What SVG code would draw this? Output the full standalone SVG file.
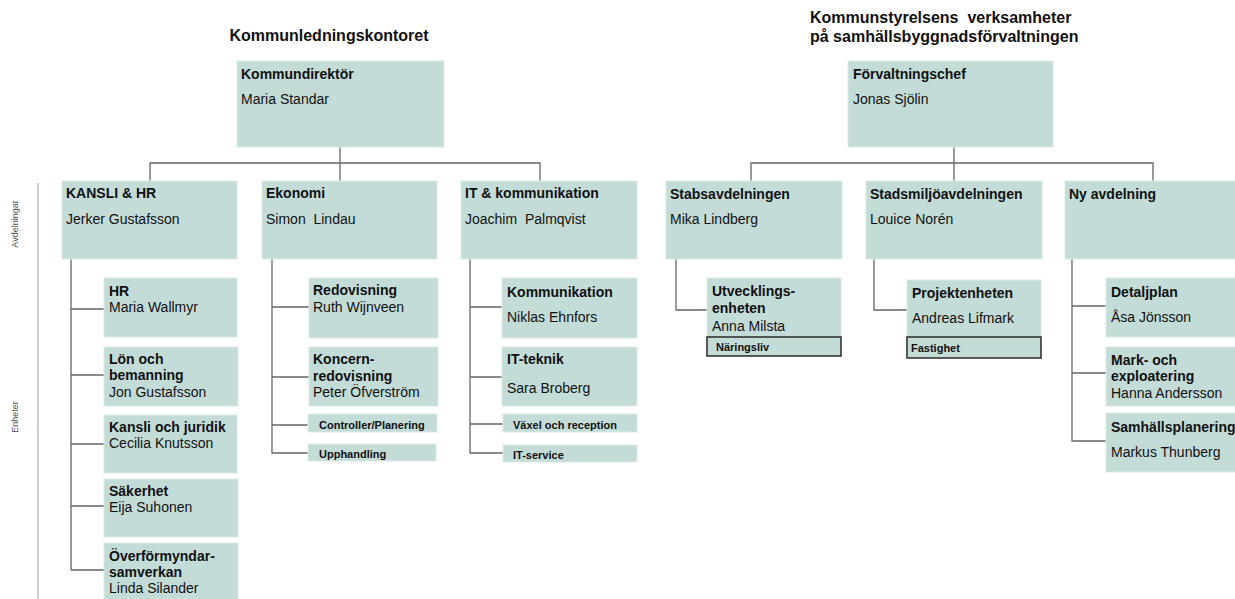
<svg xmlns="http://www.w3.org/2000/svg" width="1235" height="599" viewBox="0 0 1235 599" xml:space="preserve">
<style>
text{font-family:"Liberation Sans",Arial,sans-serif;fill:#111;white-space:pre}
.h{font-size:16px;font-weight:bold}
.t{font-size:14px;font-weight:bold}
.n{font-size:14px}
.s{font-size:11px;font-weight:bold}
.side{font-size:9px;fill:#555}
.box{fill:#c3dcd8;stroke:#dbe9e6;stroke-width:1}
.dbox{fill:#c3dcd8;stroke:#2a2a2a;stroke-width:1.5}
.c{fill:none;stroke:#666;stroke-width:1.3}
</style>
<rect width="1235" height="599" fill="#fff"/>
<text class="h" x="329" y="41" text-anchor="middle">Kommunledningskontoret</text>
<text class="h" x="810" y="23">Kommunstyrelsens  verksamheter</text>
<text class="h" x="810" y="42">på samhällsbyggnadsförvaltningen</text>
<line x1="38" y1="183" x2="38" y2="599" stroke="#bfbfbf" stroke-width="1.5"/>
<text class="side" transform="translate(18,224) rotate(-90)" text-anchor="middle">Avdelningar</text>
<text class="side" transform="translate(18,417) rotate(-90)" text-anchor="middle">Enheter</text>
<g id="connectors">
<path class="c" d="M340 147V163M150 181V163H540V181M340 163V181"/>
<path class="c" d="M71 259V570M71 309H104M71 375H104M71 444H104M71 506H104M71 570H104"/>
<path class="c" d="M272 259V453H308M272 307H309M272 377H309M272 425H308"/>
<path class="c" d="M470 259V453H503M470 307H502M470 377H502M470 424H503"/>
<path class="c" d="M954 147V163M751 181V163H1153V181M954 163V181"/>
<path class="c" d="M676 259V310H707"/>
<path class="c" d="M874 259V310H907"/>
<path class="c" d="M1072 259V441H1106M1072 306H1106M1072 373H1106"/>
</g>
<g id="kommundirektor"><rect class="box" x="237" y="61" width="207" height="86"/><text class="t" x="241" y="79">Kommundirektör</text><text class="n" x="241" y="104">Maria Standar</text></g>
<g id="kansli-hr"><rect class="box" x="62" y="181" width="175" height="78"/><text class="t" x="66" y="198">KANSLI &amp; HR</text><text class="n" x="66" y="224">Jerker Gustafsson</text></g>
<g id="ekonomi"><rect class="box" x="262" y="181" width="175" height="78"/><text class="t" x="266" y="198">Ekonomi</text><text class="n" x="266" y="224">Simon  Lindau</text></g>
<g id="it-kommunikation"><rect class="box" x="461" y="181" width="176" height="78"/><text class="t" x="465" y="198">IT &amp; kommunikation</text><text class="n" x="465" y="224">Joachim  Palmqvist</text></g>
<g id="hr"><rect class="box" x="104" y="278" width="133" height="59"/><text class="t" x="109" y="296">HR</text><text class="n" x="109" y="312">Maria Wallmyr</text></g>
<g id="lon"><rect class="box" x="104" y="347" width="134" height="59"/><text class="t" x="109" y="364">Lön och</text><text class="t" x="109" y="380">bemanning</text><text class="n" x="109" y="397">Jon Gustafsson</text></g>
<g id="kansli-juridik"><rect class="box" x="104" y="415" width="133" height="58"/><text class="t" x="109" y="432">Kansli och juridik</text><text class="n" x="109" y="448">Cecilia Knutsson</text></g>
<g id="sakerhet"><rect class="box" x="104" y="479" width="134" height="58"/><text class="t" x="109" y="496">Säkerhet</text><text class="n" x="109" y="512">Eija Suhonen</text></g>
<g id="overformyndar"><rect class="box" x="104" y="543" width="134" height="60"/><text class="t" x="109" y="561">Överförmyndar-</text><text class="t" x="109" y="577">samverkan</text><text class="n" x="109" y="593">Linda Silander</text></g>
<g id="redovisning"><rect class="box" x="309" y="278" width="129" height="60"/><text class="t" x="313" y="295">Redovisning</text><text class="n" x="313" y="312">Ruth Wijnveen</text></g>
<g id="koncern"><rect class="box" x="309" y="347" width="129" height="59"/><text class="t" x="313" y="364">Koncern-</text><text class="t" x="313" y="381">redovisning</text><text class="n" x="313" y="397">Peter Öfverström</text></g>
<g id="controller"><rect class="box" x="308" y="414" width="129" height="18"/><text class="s" x="319" y="429">Controller/Planering</text></g>
<g id="upphandling"><rect class="box" x="308" y="444" width="128" height="17"/><text class="s" x="319" y="458">Upphandling</text></g>
<g id="kommunikation"><rect class="box" x="502" y="278" width="135" height="60"/><text class="t" x="507" y="297">Kommunikation</text><text class="n" x="507" y="322">Niklas Ehnfors</text></g>
<g id="it-teknik"><rect class="box" x="502" y="347" width="135" height="59"/><text class="t" x="507" y="364">IT-teknik</text><text class="n" x="507" y="393">Sara Broberg</text></g>
<g id="vaxel"><rect class="box" x="503" y="414" width="134" height="18"/><text class="s" x="513" y="429">Växel och reception</text></g>
<g id="it-service"><rect class="box" x="503" y="445" width="134" height="17"/><text class="s" x="513" y="459">IT-service</text></g>
<g id="forvaltningschef"><rect class="box" x="848" y="61" width="205" height="86"/><text class="t" x="853" y="79">Förvaltningschef</text><text class="n" x="853" y="104">Jonas Sjölin</text></g>
<g id="stabsavdelningen"><rect class="box" x="666" y="181" width="176" height="78"/><text class="t" x="670" y="199">Stabsavdelningen</text><text class="n" x="670" y="224">Mika Lindberg</text></g>
<g id="stadsmiljoavdelningen"><rect class="box" x="866" y="181" width="176" height="78"/><text class="t" x="870" y="199">Stadsmiljöavdelningen</text><text class="n" x="870" y="224">Louice Norén</text></g>
<g id="ny-avdelning"><rect class="box" x="1065" y="181" width="175" height="78"/><text class="t" x="1069" y="199">Ny avdelning</text></g>
<g id="utvecklingsenheten"><rect class="box" x="707" y="278" width="134" height="59"/><text class="t" x="712" y="296">Utvecklings-</text><text class="t" x="712" y="313">enheten</text><text class="n" x="712" y="331">Anna Milsta</text></g>
<g id="naringsliv"><rect class="dbox" x="707" y="337" width="134" height="19"/><text class="s" x="716" y="351">Näringsliv</text></g>
<g id="projektenheten"><rect class="box" x="907" y="280" width="134" height="57"/><text class="t" x="912" y="298">Projektenheten</text><text class="n" x="912" y="323">Andreas Lifmark</text></g>
<g id="fastighet"><rect class="dbox" x="907" y="337" width="134" height="21"/><text class="s" x="911" y="352">Fastighet</text></g>
<g id="detaljplan"><rect class="box" x="1106" y="278" width="132" height="59"/><text class="t" x="1111" y="297">Detaljplan</text><text class="n" x="1111" y="322">Åsa Jönsson</text></g>
<g id="mark-exploatering"><rect class="box" x="1106" y="347" width="132" height="59"/><text class="t" x="1111" y="365">Mark- och</text><text class="t" x="1111" y="381">exploatering</text><text class="n" x="1111" y="398">Hanna Andersson</text></g>
<g id="samhallsplanering"><rect class="box" x="1106" y="413" width="132" height="59"/><text class="t" x="1111" y="432">Samhällsplanering</text><text class="n" x="1111" y="457">Markus Thunberg</text></g>
</svg>
